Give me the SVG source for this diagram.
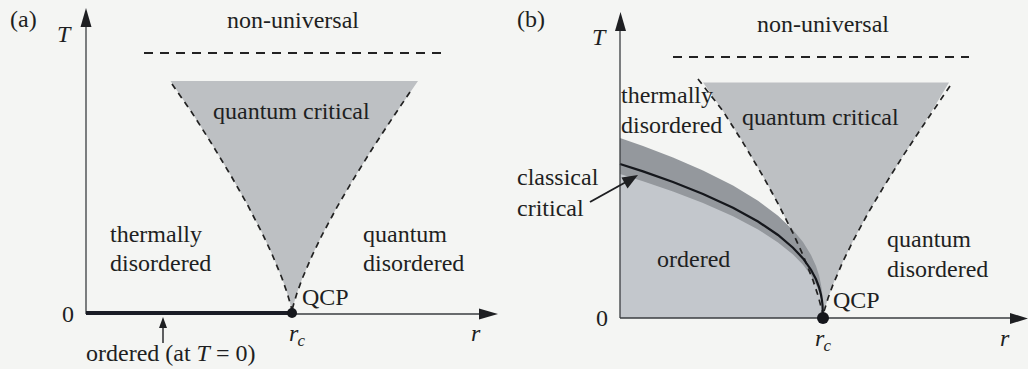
<svg xmlns="http://www.w3.org/2000/svg" width="1028" height="369" viewBox="0 0 1028 369" font-family="Liberation Serif, Times New Roman, serif">
<style>
text{font-size:24px;fill:#1e1f22}
.it{font-style:italic}
.sub{font-style:italic;font-size:17px}
.axis{stroke:#3a3c40;stroke-width:1.3;fill:none}
.dash{stroke:#222;stroke-width:1.7;fill:none;stroke-dasharray:6 5}
.hdash{stroke:#222;stroke-width:1.8;fill:none;stroke-dasharray:9 7}
.qc{fill:#bdc0c3}
.ord{fill:#c3c7cc}
.band{fill:#94989d}
.head{fill:#1e1f22}
</style>
<rect width="1028" height="369" fill="#f4f5f3"/>

<g id="panel-a">
  <g id="a-qc-region">
    <polygon class="qc" points="170.5,81 418,81 392,118.7 372,149.2 352,181.5 337,207.1 322,235.2 312,255.8 302,279.2 297,293.1 294,303.1 292,311 290,302.8 287,292.5 282,278.2 272,254.1 262,232.8 247,203.9 232,177.5 212,144.2 192,112.7"/>
  </g>
  <g id="a-connectors">
    <line class="hdash" x1="144" y1="53" x2="446" y2="53"/>
    <polyline class="dash" points="172,84 192,112.7 212,144.2 232,177.5 247,203.9 262,232.8 272,254.1 282,278.2 287,292.5 290,302.8 292,310"/>
    <polyline class="dash" points="410,92 392,118.7 372,149.2 352,181.5 337,207.1 322,235.2 312,255.8 302,279.2 297,293.1 294,303.1 292,310"/>
    <line class="axis" x1="86" y1="314" x2="86" y2="24"/>
    <polygon class="head" points="86,8 80.5,27 91.5,27"/>
    <line class="axis" x1="86" y1="314" x2="482" y2="314"/>
    <polygon class="head" points="498,314 479,308.5 479,319.5"/>
    <line x1="86" y1="313" x2="292" y2="313" stroke="#1a1d26" stroke-width="4"/>
    <line x1="163" y1="343" x2="163" y2="326" stroke="#1e1f22" stroke-width="1.4"/>
    <polygon class="head" points="163,317 159,328 167,328"/>
  </g>
  <g id="a-qcp"><circle cx="292" cy="313" r="5" fill="#15171c"/></g>
  <g id="a-labels" font-family="Liberation Serif, serif">
    <text x="10" y="27">(a)</text>
    <text class="it" x="57" y="42">T</text>
    <text x="227" y="28">non-universal</text>
    <text x="213" y="119">quantum critical</text>
    <text x="110" y="242">thermally</text>
    <text x="110" y="271">disordered</text>
    <text x="363" y="242">quantum</text>
    <text x="363" y="271">disordered</text>
    <text x="302" y="305">QCP</text>
    <text x="62" y="322">0</text>
    <text class="it" x="289" y="341">r</text><text class="sub" x="297.5" y="346">c</text>
    <text class="it" x="471" y="341">r</text>
    <text x="86" y="361">ordered (at <tspan class="it">T</tspan> = 0)</text>
  </g>
</g>

<g id="panel-b">
  <g id="b-qc-region">
    <polygon class="qc" points="703,82.5 949,82.5 923,125.7 903,155.9 883,187.9 868,213.2 853,241 843,261.4 833,284.6 828,298.3 825,308.2 823,316 821,306.6 818,295.5 813,280.3 803,255.1 793,233.1 778,203.6 763,176.2 743,142.6 723,111.1"/>
  </g>
  <g id="b-ordered-region">
    <polygon class="ord" points="620,318 620,164 643,171.4 673,182 703,193.9 733,207.7 758,221.5 778,235 793,247.7 803,258.4 811,269.7 816,279.3 819,287.2 821,294.8 822,300.6 822.5,304.9 823,318"/>
  </g>
  <g id="b-classical-band">
    <polygon class="band" points="620,138 643,146 673,157.5 703,170.5 733,185.6 758,200.8 778,215.8 793,230 803,242 811,254.9 816,266 819,275.3 821,284.5 822,291.6 822.5,297.1 823,318 822.5,307.9 822,304.1 821,298.8 819,291.8 816,284.4 811,275.4 803,264.7 793,254.5 778,242.4 758,229.5 733,216.2 703,202.9 673,191.4 643,181.2 620,174"/>
  </g>
  <g id="b-connectors">
    <line class="hdash" x1="673" y1="57" x2="969" y2="57"/>
    <polyline class="dash" points="698,79 723,111.1 743,142.6 763,176.2 778,203.6 793,233.1 803,255.1 813,280.3 818,295.5 821,306.6 823,314"/>
    <polyline class="dash" points="950,86 923,125.7 903,155.9 883,187.9 868,213.2 853,241 843,261.4 833,284.6 828,298.3 825,308.2 823,314"/>
    <polyline fill="none" stroke="#15171c" stroke-width="2.2" points="620,164 643,171.4 673,182 703,193.9 733,207.7 758,221.5 778,235 793,247.7 803,258.4 811,269.7 816,279.3 819,287.2 821,294.8 822,300.6 822.5,304.9 823,318"/>
    <line class="axis" x1="620" y1="318" x2="620" y2="28"/>
    <polygon class="head" points="620.5,12 615,31 626,31"/>
    <line class="axis" x1="620" y1="318" x2="1012" y2="318"/>
    <polygon class="head" points="1028,318.5 1010,313 1010,324"/>
    <line x1="590" y1="202" x2="626" y2="182" stroke="#1e1f22" stroke-width="2"/>
    <polygon class="head" points="638,175 621.5,177.5 627.5,188.5"/>
  </g>
  <g id="b-qcp"><circle cx="823" cy="318" r="6" fill="#15171c"/></g>
  <g id="b-labels" font-family="Liberation Serif, serif">
    <text x="517" y="27">(b)</text>
    <text class="it" x="592" y="45">T</text>
    <text x="757" y="32">non-universal</text>
    <text x="621" y="103">thermally</text>
    <text x="621" y="133">disordered</text>
    <text x="742" y="125">quantum critical</text>
    <text x="517" y="185">classical</text>
    <text x="517" y="216">critical</text>
    <text x="657" y="267">ordered</text>
    <text x="887" y="247">quantum</text>
    <text x="887" y="277">disordered</text>
    <text x="833" y="308">QCP</text>
    <text x="596" y="326">0</text>
    <text class="it" x="815" y="346">r</text><text class="sub" x="823.5" y="351">c</text>
    <text class="it" x="1000" y="346">r</text>
  </g>
</g>
</svg>
